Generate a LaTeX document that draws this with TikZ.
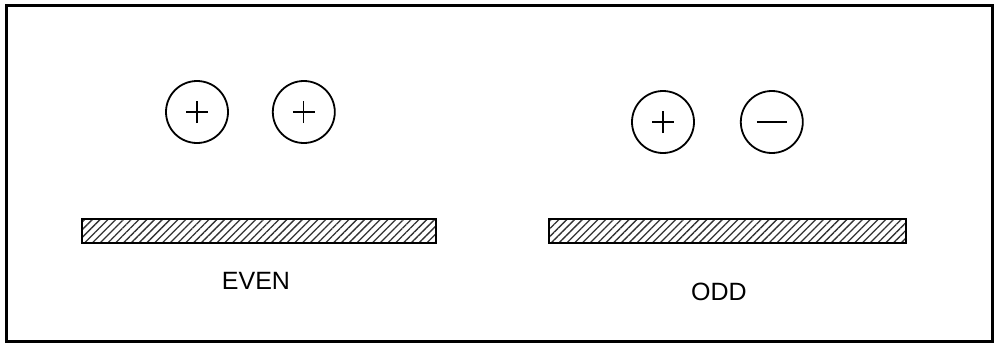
\documentclass[tikz,border=0pt]{standalone}
\usepackage{fontspec}
\setmainfont{Liberation Sans}
\usetikzlibrary{patterns.meta, positioning}

\begin{document}
\begin{tikzpicture}[x=1pt, y=-1pt,
  charge/.style={circle, draw=black, line width=1.8pt, minimum size=62pt, inner sep=0pt},
  plate/.style={rectangle, draw=black, line width=1.5pt, minimum height=24pt, inner sep=0pt,
                pattern={Lines[angle=45, distance=5.5pt, line width=1.3pt]}, pattern color=black!80},
  sign/.style={line width=1.3pt},
  caption/.style={font=\fontsize{25}{30}\selectfont, inner sep=0pt}
]
\useasboundingbox (0,0) rectangle (994,343);
\draw[line width=3pt] (6,5) rectangle (992,341);

% even case
\node[charge] (even1) at (197,112) {};
\node[charge, right=43pt of even1] (even2) {};
\node[plate, minimum width=354pt] (evenplate) at (259,231) {};
\node[caption] (evenlabel) at (256,281) {EVEN};

% odd case
\node[charge] (odd1) at (663,122) {};
\node[charge, right=45pt of odd1] (odd2) {};
\node[plate, minimum width=357pt] (oddplate) at (727.5,231) {};
\node[caption] (oddlabel) at (719,292) {ODD};

% signs
\foreach \c in {even1, even2, odd1}{
  \draw[sign] ([xshift=-11pt]\c.center) -- ([xshift=11pt]\c.center);
  \draw[sign] ([yshift=-11pt]\c.center) -- ([yshift=11pt]\c.center);
}
\draw[sign] ([xshift=-15pt]odd2.center) -- ([xshift=15pt]odd2.center);
\end{tikzpicture}
\end{document}
